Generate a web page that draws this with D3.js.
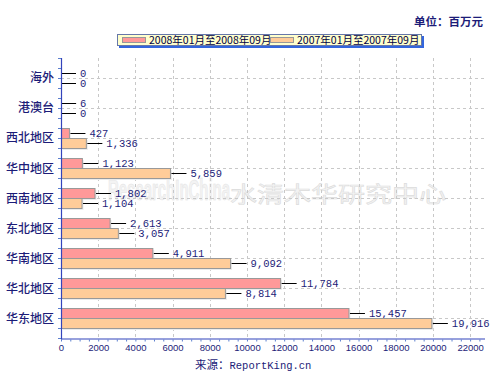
<!DOCTYPE html>
<html><head><meta charset="utf-8">
<script src="https://cdn.jsdelivr.net/npm/d3@7"></script>
<style>body{margin:0;background:#fff}svg{display:block}</style>
</head><body>
<script>
const categories = ["海外","港澳台","西北地区","华中地区","西南地区","东北地区","华南地区","华北地区","华东地区"];
const series2008 = [0, 6, 427, 1123, 1802, 2613, 4911, 11784, 15457];
const series2007 = [0, 0, 1336, 5859, 1104, 3057, 9092, 8814, 19916];
const seriesNames = ["2008年01月至2008年09月", "2007年01月至2007年09月"];
const xTicks = [0,2000,4000,6000,8000,10000,12000,14000,16000,18000,20000,22000];
const xMax = 22800;

const W = 500, H = 383;
const svg = d3.select("body").append("svg").attr("width", W).attr("height", H);
const L = 61, R = 485, T = 58, B = 338.5;

const x = d3.scaleLinear().domain([0, xMax]).range([L, R]);
const y = d3.scaleBand().domain(categories).range([T, B]).paddingOuter(1/6).paddingInner(0);
const bh = 10;
const navy = "#1c1c78";
const fmt = d3.format(",");

// watermark (faint, behind everything)
svg.append("text").attr("x", 108).attr("y", 200).attr("font-family", "Liberation Sans, sans-serif")
  .attr("font-size", 30).attr("font-weight", "bold").attr("textLength", 122).attr("lengthAdjust", "spacingAndGlyphs")
  .attr("fill", "#f3f3f3").attr("stroke", "#e2e2e2").attr("stroke-width", 0.6).text("ResearchInChina");
svg.append("text").attr("x", 230).attr("y", 202).attr("font-family", "Noto Sans CJK SC, sans-serif")
  .attr("font-size", 22).attr("textLength", 216).attr("lengthAdjust", "spacingAndGlyphs")
  .attr("fill", "#f3f3f3").attr("stroke", "#dcdcdc").attr("stroke-width", 0.6).text("水清木华研究中心");

// gridlines
const grid = svg.append("g").attr("stroke", "#c8c8c8").attr("stroke-dasharray", "3,3").attr("stroke-width", 1);
xTicks.filter(d => d > 0).forEach(d => {
  grid.append("line").attr("x1", Math.round(x(d)) + 0.5).attr("x2", Math.round(x(d)) + 0.5).attr("y1", T).attr("y2", B);
});
categories.forEach(c => {
  const cy = Math.round(y(c) + y.bandwidth() / 2) + 0.5;
  grid.append("line").attr("x1", L).attr("x2", R).attr("y1", cy).attr("y2", cy);
});

// bars
const rows = categories.map((c, i) => ({c, a: series2008[i], b: series2007[i]}));
const g = svg.append("g");
rows.forEach(r => {
  const cy = Math.round(y(r.c) + y.bandwidth() / 2);
  [[r.a, cy - bh, "#ff9999"], [r.b, cy, "#ffcc99"]].forEach(([v, yy, col]) => {
    const w = x(v) - x(0);
    if (w > 0.5) {
      g.append("rect").attr("x", x(0) + 2).attr("y", yy + 2).attr("width", w).attr("height", bh).attr("fill", "#ececec");
      g.append("rect").attr("x", x(0) + 0.5).attr("y", yy + 0.5).attr("width", w).attr("height", bh)
        .attr("fill", col).attr("stroke", "#999").attr("stroke-width", 1);
    }
    const ex = x(v) + (w > 0.5 ? 1.5 : 0);
    const my = yy + bh / 2 + 0.5;
    g.append("line").attr("x1", ex).attr("x2", ex + 15).attr("y1", my).attr("y2", my).attr("stroke", "#000").attr("stroke-width", 1);
    g.append("text").attr("x", ex + 19).attr("y", my).attr("dy", "0.35em")
      .attr("font-family", "Liberation Mono, monospace").attr("font-size", 10.5).attr("fill", navy).text(fmt(v));
  });
});

// y axis
const ax = svg.append("g");
ax.append("line").attr("x1", L + 0.5).attr("x2", L + 0.5).attr("y1", T).attr("y2", B + 1).attr("stroke", "#3344bb").attr("stroke-width", 1.2);
for (let yy = T; yy <= B; yy += 10) {
  ax.append("line").attr("x1", L - 3).attr("x2", L).attr("y1", yy + 0.5).attr("y2", yy + 0.5).attr("stroke", "#5b7fcf");
}
categories.forEach(c => {
  const cy = y(c) + y.bandwidth() / 2;
  ax.append("text").attr("x", L - 7).attr("y", cy).attr("dy", "0.36em").attr("text-anchor", "end")
    .attr("font-family", "Noto Sans CJK SC, sans-serif").attr("font-size", 12).attr("font-weight", 500).attr("fill", navy).text(c);
});

// x axis
ax.append("line").attr("x1", L).attr("x2", R).attr("y1", B + 0.5).attr("y2", B + 0.5).attr("stroke", "#3344bb").attr("stroke-width", 1.2);
for (let v = 0; v <= xMax; v += 500) {
  ax.append("line").attr("x1", x(v) + 0.5).attr("x2", x(v) + 0.5).attr("y1", B + 1).attr("y2", B + 3).attr("stroke", "#5b7fcf");
}
const xa = d3.axisBottom(x).tickValues(xTicks).tickSize(0).tickPadding(6).tickFormat(d3.format("d"));
const xg = svg.append("g").attr("transform", `translate(0,${B})`).call(xa);
xg.select(".domain").remove();
xg.selectAll("text").attr("font-family", "Liberation Sans, sans-serif").attr("font-size", 9.5).attr("fill", navy);

// legend
const lg = svg.append("g");
lg.append("rect").attr("x", 119).attr("y", 36).attr("width", 305).attr("height", 12).attr("fill", "#3366dd");
lg.append("rect").attr("x", 117.5).attr("y", 34.5).attr("width", 304).attr("height", 11).attr("fill", "#ffffcc").attr("stroke", "#6677aa");
const lx = [122, 270];
seriesNames.forEach((n, i) => {
  lg.append("rect").attr("x", lx[i] + 0.5).attr("y", 37.5).attr("width", 23).attr("height", 5)
    .attr("fill", i === 0 ? "#ff9999" : "#ffcc99").attr("stroke", "#999");
  lg.append("text").attr("x", lx[i] + 27).attr("y", 40.5).attr("dy", "0.36em")
    .attr("font-family", "Noto Sans CJK SC, sans-serif").attr("font-size", 10.5).attr("fill", "#000044").text(n);
});

// unit and source
svg.append("text").attr("x", 483).attr("y", 22).attr("dy", "0.36em").attr("text-anchor", "end")
  .attr("font-family", "Noto Sans CJK SC, sans-serif").attr("font-size", 11.5).attr("font-weight", "bold").attr("fill", navy).text("单位：百万元");
const src = svg.append("text").attr("x", 195).attr("y", 363).attr("dy", "0.36em").attr("fill", navy);
src.append("tspan").attr("font-family", "Noto Sans CJK SC, sans-serif").attr("font-size", 11.5).text("来源：");
src.append("tspan").attr("font-family", "Liberation Mono, monospace").attr("font-size", 10.5).text("ReportKing.cn");
</script>
</body></html>
